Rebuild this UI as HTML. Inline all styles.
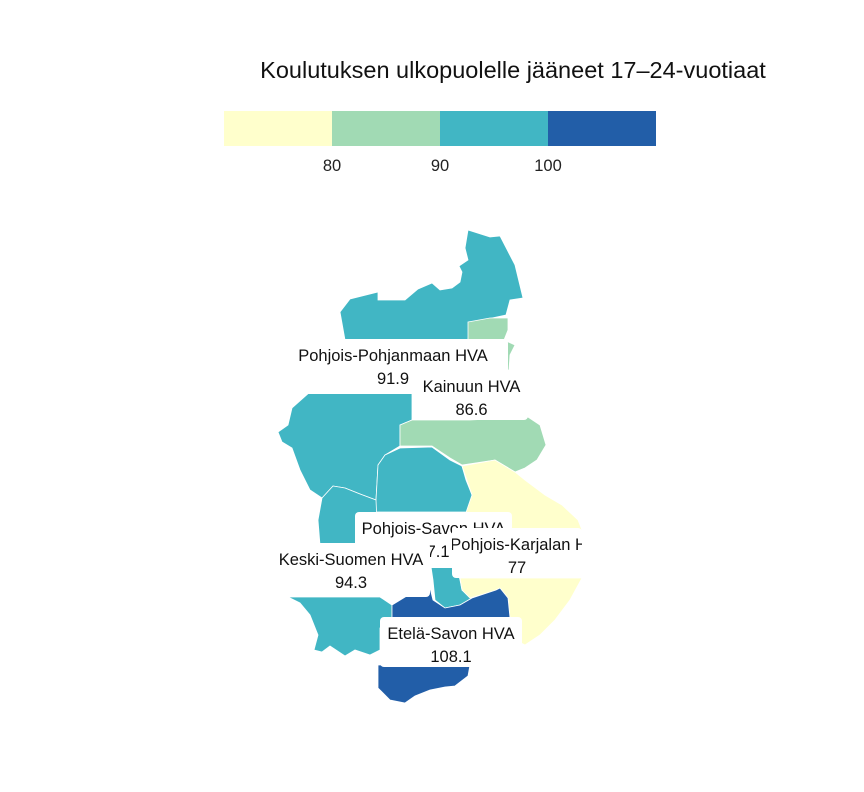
<!DOCTYPE html>
<html><head><meta charset="utf-8"><style>
html,body{margin:0;padding:0;background:#fff;width:864px;height:792px;overflow:hidden}
svg{font-family:"Liberation Sans",sans-serif}
</style></head><body>
<svg id="chart" width="864" height="792">
<text x="513" y="78" text-anchor="middle" font-size="23.5" fill="#111">Koulutuksen ulkopuolelle jääneet 17–24-vuotiaat</text>
<g id="legend"></g>
<g id="regions"></g>
<g id="labels"></g>
</svg>
<script>
const regionNames = ["Pohjois-Pohjanmaan HVA","Kainuun HVA","Pohjois-Savon HVA","Pohjois-Karjalan HVA","Keski-Suomen HVA","Etelä-Savon HVA"];
const regionValues = [91.9, 86.6, 97.1, 77, 94.3, 108.1];
const legendBreaks = [70, 80, 90, 100, 110];
const legendTicks = [80, 90, 100];
const binColors = ["#ffffcc","#a1dab4","#41b6c4","#225ea8"];

const NS="http://www.w3.org/2000/svg";
function mk(tag,attrs,parent){const e=document.createElementNS(NS,tag);for(const k in attrs)e.setAttribute(k,attrs[k]);parent.appendChild(e);return e;}
function colorOf(v){for(let i=0;i<4;i++){if(v<legendBreaks[i+1])return binColors[i];}return binColors[3];}
function lx(v){return 224+(v-legendBreaks[0])/(legendBreaks[4]-legendBreaks[0])*432;}

const lg=document.getElementById('legend');
for(let i=0;i<4;i++){
  const r=mk('rect',{x:lx(legendBreaks[i]),y:111,width:lx(legendBreaks[i+1])-lx(legendBreaks[i]),height:35,fill:binColors[i]},lg);
  
  
}
legendTicks.forEach(t=>{
  const tx=mk('text',{x:lx(t),y:171,'text-anchor':'middle','font-size':16.5,fill:'#222'},lg);
  tx.textContent=t;
  
  
});

const shapes=[
 ["M340,312 L350,299 L378,292 L378,300 L405,300 L418,289 L432,283 L440,290 L452,288 L460,282 L462,272 L459,266 L468,260 L465,248 L468,230 L490,237 L500,236 L515,265 L523,298 L510,300 L506,315 L492,318 L470,325 L468,340 L345,340 Z",
  "M310,392 L412,392 L412,420 L400,425 L400,446 L385,455 L378,465 L376,500 L360,494 L345,488 L333,486 L322,498 L310,490 L300,470 L292,448 L282,442 L278,432 L288,425 L292,408 Z"],
 ["M468,322 L490,318 L508,318 L508,330 L504,340 L515,345 L510,355 L509,370 L468,370 Z",
  "M400,425 L412,420 L470,420 L528,417 L540,425 L546,445 L537,460 L525,468 L515,472 L495,460 L462,465 L450,458 L432,446 L400,446 Z"],
 ["M378,465 L385,455 L400,448 L432,447 L450,460 L462,466 L466,480 L472,495 L474,512 L355,512 L376,500 Z",
  "M430,560 L455,560 L460,580 L462,590 L472,598 L460,605 L445,608 L435,600 L433,580 Z"],
 ["M462,466 L495,460 L515,472 L525,480 L545,495 L562,505 L578,520 L582,530 L460,530 L472,495 Z",
  "M460,578 L582,578 L570,600 L555,620 L540,635 L525,645 L515,640 L510,620 L508,598 L498,590 L470,598 L462,590 Z"],
 ["M322,498 L333,486 L345,488 L360,494 L376,500 L378,545 L320,545 L318,520 Z",
  "M288,597 L380,597 L392,605 L392,620 L380,628 L380,650 L370,655 L355,650 L345,656 L330,646 L322,652 L314,650 L318,635 L310,615 L300,603 Z"],
 ["M392,605 L410,594 L430,588 L433,600 L445,608 L460,605 L472,598 L496,590 L500,588 L508,598 L510,618 L392,618 Z",
  "M378,665 L470,665 L468,676 L455,686 L445,687 L430,690 L415,696 L405,703 L390,700 L378,688 Z"]
];
const rg=document.getElementById('regions');
regionNames.forEach((n,i)=>{
  shapes[i].forEach((d,j)=>{
    const p=mk('path',{d:d,fill:colorOf(regionValues[i]),stroke:'#ffffff','stroke-width':0.8},rg);
    
    
  });
});

const boxes={2:[355,512,157,56],0:[278,339,230,55],1:[415,370,113,50],3:[452,528,130,50],4:[272,543,158,54],5:[380,617,142,50]};
const order=[2,0,1,3,4,5];
const lb=document.getElementById('labels');
order.forEach(i=>{
  const b=boxes[i];
  const g=mk('g',{},lb);
  
  
  const cp=mk('clipPath',{id:'cp'+i},g);
  mk('rect',{x:b[0],y:b[1],width:b[2],height:b[3]},cp);
  mk('rect',{x:b[0],y:b[1],width:b[2],height:b[3],rx:4,fill:'#ffffff'},g);
  const t=mk('text',{x:b[0]+b[2]/2+(i==3?12:0),y:b[1]+22,'text-anchor':'middle','font-size':16.5,fill:'#111','clip-path':'url(#cp'+i+')'},g);
  t.textContent=regionNames[i];
  const v=mk('text',{x:b[0]+b[2]/2,y:b[1]+45,'text-anchor':'middle','font-size':16.5,fill:'#111'},g);
  v.textContent=regionValues[i];
});
</script>
</body></html>
